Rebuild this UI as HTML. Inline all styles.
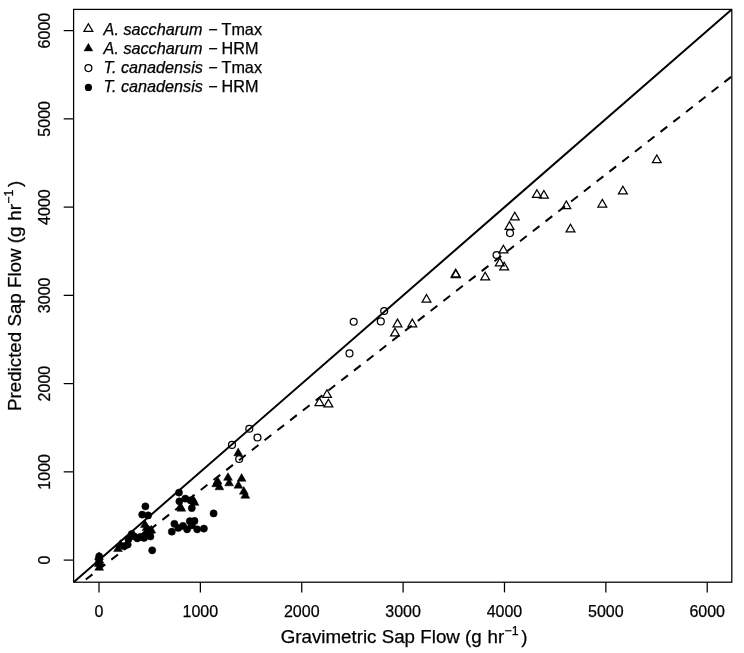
<!DOCTYPE html>
<html lang="en"><head><meta charset="utf-8"><title>Sap Flow</title>
<style>html,body{margin:0;padding:0;background:#fff}svg{display:block}text{font-family:"Liberation Sans",Arial,Helvetica,sans-serif;fill:#000;stroke:#000;stroke-width:0.25px}</style></head><body>
<svg width="744" height="653" viewBox="0 0 744 653">
<rect width="744" height="653" fill="#fff"/>
<defs><clipPath id="c"><rect x="73.6" y="9.4" width="658.20" height="572.80"/></clipPath></defs>
<g clip-path="url(#c)" stroke="#000" fill="none">
<line x1="73.6" y1="582.2" x2="731.8" y2="9.4" stroke-width="2"/>
<line x1="73.00" y1="589.51" x2="740" y2="69.92" stroke-width="2" stroke-dasharray="8.50 7.69"/>
</g>
<g stroke="#000" stroke-width="1.25" fill="none" stroke-linejoin="miter">
<polygon points="656.80,155.00 661.22,162.65 652.38,162.65"/>
<polygon points="622.90,186.30 627.32,193.95 618.48,193.95"/>
<polygon points="602.30,199.40 606.72,207.05 597.88,207.05"/>
<polygon points="566.30,200.90 570.72,208.55 561.88,208.55"/>
<polygon points="570.50,224.20 574.92,231.85 566.08,231.85"/>
<polygon points="536.90,189.70 541.32,197.35 532.48,197.35"/>
<polygon points="543.90,190.50 548.32,198.15 539.48,198.15"/>
<polygon points="514.80,212.30 519.22,219.95 510.38,219.95"/>
<polygon points="509.50,221.60 513.92,229.25 505.08,229.25"/>
<polygon points="503.40,245.20 507.82,252.85 498.98,252.85"/>
<polygon points="499.80,258.10 504.22,265.75 495.38,265.75"/>
<polygon points="504.20,262.30 508.62,269.95 499.78,269.95"/>
<polygon points="485.20,272.30 489.62,279.95 480.78,279.95"/>
<polygon points="455.60,269.30 460.02,276.95 451.18,276.95"/>
<polygon points="455.90,269.90 460.32,277.55 451.48,277.55"/>
<polygon points="426.50,294.50 430.92,302.15 422.08,302.15"/>
<polygon points="397.50,319.10 401.92,326.75 393.08,326.75"/>
<polygon points="412.30,319.10 416.72,326.75 407.88,326.75"/>
<polygon points="395.00,328.20 399.42,335.85 390.58,335.85"/>
<polygon points="327.00,389.80 331.42,397.45 322.58,397.45"/>
<polygon points="319.40,397.90 323.82,405.55 314.98,405.55"/>
<polygon points="328.40,399.30 332.82,406.95 323.98,406.95"/>
<circle cx="510.0" cy="233.1" r="3.45"/>
<circle cx="496.6" cy="255.0" r="3.45"/>
<circle cx="384.2" cy="311.0" r="3.45"/>
<circle cx="380.8" cy="321.4" r="3.45"/>
<circle cx="353.7" cy="321.8" r="3.45"/>
<circle cx="349.5" cy="353.4" r="3.45"/>
<circle cx="249.3" cy="428.8" r="3.45"/>
<circle cx="257.5" cy="437.5" r="3.45"/>
<circle cx="232.0" cy="444.9" r="3.45"/>
<circle cx="239.2" cy="459.0" r="3.45"/>
</g>
<g fill="#000" stroke="#000" stroke-width="0.5">
<polygon points="238.20,448.10 242.62,455.75 233.78,455.75"/>
<polygon points="228.00,472.70 232.42,480.35 223.58,480.35"/>
<polygon points="229.10,478.20 233.52,485.85 224.68,485.85"/>
<polygon points="241.60,473.60 246.02,481.25 237.18,481.25"/>
<polygon points="238.40,480.50 242.82,488.15 233.98,488.15"/>
<polygon points="243.80,486.50 248.22,494.15 239.38,494.15"/>
<polygon points="245.30,490.60 249.72,498.25 240.88,498.25"/>
<polygon points="216.20,479.10 220.62,486.75 211.78,486.75"/>
<polygon points="219.40,482.10 223.82,489.75 214.98,489.75"/>
<polygon points="217.60,476.40 222.02,484.05 213.18,484.05"/>
<polygon points="194.50,497.70 198.92,505.35 190.08,505.35"/>
<polygon points="192.90,494.70 197.32,502.35 188.48,502.35"/>
<polygon points="181.30,503.50 185.72,511.15 176.88,511.15"/>
<polygon points="180.30,502.20 184.72,509.85 175.88,509.85"/>
<polygon points="144.90,519.80 149.32,527.45 140.48,527.45"/>
<polygon points="148.00,524.90 152.42,532.55 143.58,532.55"/>
<polygon points="151.30,525.30 155.72,532.95 146.88,532.95"/>
<polygon points="146.50,522.90 150.92,530.55 142.08,530.55"/>
<polygon points="149.80,525.90 154.22,533.55 145.38,533.55"/>
<polygon points="120.40,539.70 124.82,547.35 115.98,547.35"/>
<polygon points="118.00,543.90 122.42,551.55 113.58,551.55"/>
<polygon points="99.00,551.90 103.42,559.55 94.58,559.55"/>
<polygon points="99.30,555.40 103.72,563.05 94.88,563.05"/>
<polygon points="98.80,558.90 103.22,566.55 94.38,566.55"/>
<polygon points="99.20,562.60 103.62,570.25 94.78,570.25"/>
<polygon points="99.60,557.40 104.02,565.05 95.18,565.05"/>
<circle cx="179.0" cy="492.6" r="3.6"/>
<circle cx="179.4" cy="501.3" r="3.6"/>
<circle cx="185.3" cy="498.6" r="3.6"/>
<circle cx="190.4" cy="500.3" r="3.6"/>
<circle cx="191.8" cy="508.1" r="3.6"/>
<circle cx="213.6" cy="513.4" r="3.6"/>
<circle cx="174.4" cy="523.8" r="3.6"/>
<circle cx="171.8" cy="531.7" r="3.6"/>
<circle cx="178.3" cy="528.0" r="3.6"/>
<circle cx="183.0" cy="525.9" r="3.6"/>
<circle cx="187.1" cy="529.3" r="3.6"/>
<circle cx="189.8" cy="521.2" r="3.6"/>
<circle cx="194.5" cy="520.9" r="3.6"/>
<circle cx="197.2" cy="529.3" r="3.6"/>
<circle cx="203.9" cy="528.6" r="3.6"/>
<circle cx="191.8" cy="525.3" r="3.6"/>
<circle cx="152.2" cy="550.3" r="3.6"/>
<circle cx="150.4" cy="536.5" r="3.6"/>
<circle cx="145.4" cy="506.4" r="3.6"/>
<circle cx="142.2" cy="514.6" r="3.6"/>
<circle cx="148.1" cy="515.4" r="3.6"/>
<circle cx="144.0" cy="538.0" r="3.6"/>
<circle cx="137.3" cy="538.3" r="3.6"/>
<circle cx="131.7" cy="534.0" r="3.6"/>
<circle cx="128.4" cy="539.5" r="3.6"/>
<circle cx="127.7" cy="544.6" r="3.6"/>
<circle cx="124.0" cy="546.2" r="3.6"/>
<circle cx="99.0" cy="559.5" r="3.6"/>
<circle cx="99.2" cy="556.3" r="3.6"/>
<circle cx="147.5" cy="533.5" r="3.6"/>
<circle cx="145.2" cy="534.8" r="3.6"/>
<circle cx="140.6" cy="536.8" r="3.6"/>
<circle cx="134.5" cy="536.5" r="3.6"/>
</g>
<g stroke="#000" stroke-width="1.25" fill="none">
<rect x="73.6" y="9.4" width="658.20" height="572.80"/>
<line x1="99.00" y1="582.2" x2="99.00" y2="592.4000000000001"/>
<line x1="73.6" y1="560.10" x2="63.699999999999996" y2="560.10"/>
<line x1="200.37" y1="582.2" x2="200.37" y2="592.4000000000001"/>
<line x1="73.6" y1="471.85" x2="63.699999999999996" y2="471.85"/>
<line x1="301.74" y1="582.2" x2="301.74" y2="592.4000000000001"/>
<line x1="73.6" y1="383.60" x2="63.699999999999996" y2="383.60"/>
<line x1="403.11" y1="582.2" x2="403.11" y2="592.4000000000001"/>
<line x1="73.6" y1="295.35" x2="63.699999999999996" y2="295.35"/>
<line x1="504.48" y1="582.2" x2="504.48" y2="592.4000000000001"/>
<line x1="73.6" y1="207.10" x2="63.699999999999996" y2="207.10"/>
<line x1="605.85" y1="582.2" x2="605.85" y2="592.4000000000001"/>
<line x1="73.6" y1="118.85" x2="63.699999999999996" y2="118.85"/>
<line x1="707.22" y1="582.2" x2="707.22" y2="592.4000000000001"/>
<line x1="73.6" y1="30.60" x2="63.699999999999996" y2="30.60"/>
</g>
<g font-size="16" text-anchor="middle">
<text x="99.00" y="617.45">0</text>
<text transform="translate(50.2 560.10) rotate(-90)">0</text>
<text x="200.37" y="617.45">1000</text>
<text transform="translate(50.2 471.85) rotate(-90)">1000</text>
<text x="301.74" y="617.45">2000</text>
<text transform="translate(50.2 383.60) rotate(-90)">2000</text>
<text x="403.11" y="617.45">3000</text>
<text transform="translate(50.2 295.35) rotate(-90)">3000</text>
<text x="504.48" y="617.45">4000</text>
<text transform="translate(50.2 207.10) rotate(-90)">4000</text>
<text x="605.85" y="617.45">5000</text>
<text transform="translate(50.2 118.85) rotate(-90)">5000</text>
<text x="707.22" y="617.45">6000</text>
<text transform="translate(50.2 30.60) rotate(-90)">6000</text>
</g>
<text x="280.65" y="642.7" font-size="18.75">Gravimetric Sap Flow (g<tspan dx="0.65"> hr</tspan><tspan font-size="12.4" dy="-7.9" dx="0.3">−1</tspan><tspan dy="7.9" dx="2.6">)</tspan></text>
<text transform="translate(20.6 411.0) rotate(-90)" font-size="18.75">Predicted Sap Flow (g<tspan dx="0.65"> hr</tspan><tspan font-size="12.4" dy="-7.9" dx="0.3">−1</tspan><tspan dy="7.9" dx="2.6">)</tspan></text>
<polygon points="88.35,23.80 92.77,31.45 83.93,31.45" fill="none" stroke="#000" stroke-width="1.25"/>
<polygon points="88.40,43.30 92.82,50.95 83.98,50.95" fill="#000" stroke="#000" stroke-width="0.4"/>
<circle cx="88.4" cy="68.10000000000001" r="3.45" fill="none" stroke="#000" stroke-width="1.25"/>
<circle cx="88.4" cy="87.4" r="3.6" fill="#000"/>
<text y="34.5" font-size="16.2"><tspan x="103.6" font-style="italic">A. saccharum</tspan><tspan x="208.3">−</tspan><tspan x="221.5">Tmax</tspan></text>
<text y="54.4" font-size="16.2"><tspan x="103.6" font-style="italic">A. saccharum</tspan><tspan x="208.3">−</tspan><tspan x="221.5">HRM</tspan></text>
<text y="73.1" font-size="16.2"><tspan x="103.6" font-style="italic">T. canadensis</tspan><tspan x="208.3">−</tspan><tspan x="221.5">Tmax</tspan></text>
<text y="92.2" font-size="16.2"><tspan x="103.6" font-style="italic">T. canadensis</tspan><tspan x="208.3">−</tspan><tspan x="221.5">HRM</tspan></text>
</svg></body></html>
